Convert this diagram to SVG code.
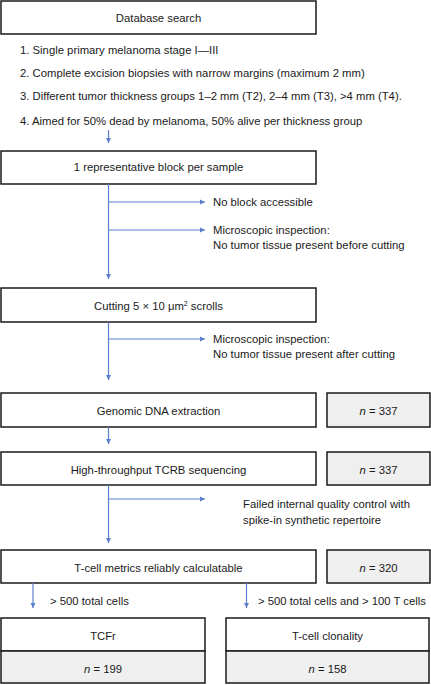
<svg xmlns="http://www.w3.org/2000/svg" width="431" height="685" viewBox="0 0 431 685">
<defs>
<style>
.box{fill:#fff;stroke:#1a1a1a;stroke-width:1.5}
.gbox{fill:#efefef;stroke:#1a1a1a;stroke-width:1.5}
.t{font-family:"Liberation Sans",Arial,sans-serif;font-size:11.3px;fill:#1a1a1a}
.c{text-anchor:middle}
.ln{fill:none;stroke:#5a7fcc;stroke-width:1.2}
</style>
<marker id="ah" markerWidth="6" markerHeight="6" refX="5" refY="3" orient="auto" markerUnits="userSpaceOnUse">
<path d="M0,0.5 L5,3 L0,5.5 Z" fill="#5a7fcc"/>
</marker>
</defs>
<rect width="431" height="685" fill="#fff"/>
<g id="n1">
<rect class="box" x="1" y="1" width="315" height="33"/>
<text class="t c" x="158.5" y="22">Database search</text>
</g>
<g id="criteria">
<text class="t" x="20" y="54">1. Single primary melanoma stage I—III</text>
<text class="t" x="20" y="77">2. Complete excision biopsies with narrow margins (maximum 2 mm)</text>
<text class="t" x="20" y="100">3. Different tumor thickness groups 1–2 mm (T2), 2–4 mm (T3), &gt;4 mm (T4).</text>
<text class="t" x="20" y="125">4. Aimed for 50% dead by melanoma, 50% alive per thickness group</text>
</g>
<g id="n2">
<rect class="box" x="1" y="151" width="315" height="33"/>
<text class="t c" x="158.5" y="171">1 representative block per sample</text>
</g>
<g id="ex1">
<text class="t" x="213" y="206">No block accessible</text>
</g>
<g id="ex2">
<text class="t" x="213" y="234">Microscopic inspection:</text>
<text class="t" x="213" y="249">No tumor tissue present before cutting</text>
</g>
<g id="n3">
<rect class="box" x="1" y="288" width="315" height="34"/>
<text class="t c" x="158.5" y="310">Cutting 5 × 10 μm<tspan font-size="7" dy="-4">2</tspan><tspan dy="4"> scrolls</tspan></text>
</g>
<g id="ex3">
<text class="t" x="213" y="343">Microscopic inspection:</text>
<text class="t" x="213" y="358">No tumor tissue present after cutting</text>
</g>
<g id="n4">
<rect class="box" x="1" y="393" width="315" height="34"/>
<text class="t c" x="158.5" y="415">Genomic DNA extraction</text>
</g>
<g id="n4c">
<rect class="gbox" x="327" y="393" width="103" height="34"/>
<text class="t c" x="378.5" y="415"><tspan font-style="italic">n</tspan> = 337</text>
</g>
<g id="n5">
<rect class="box" x="1" y="452" width="315" height="33"/>
<text class="t c" x="158.5" y="474">High-throughput TCRB sequencing</text>
</g>
<g id="n5c">
<rect class="gbox" x="327" y="452" width="103" height="33"/>
<text class="t c" x="378.5" y="474"><tspan font-style="italic">n</tspan> = 337</text>
</g>
<g id="ex4">
<text class="t" x="243" y="508">Failed internal quality control with</text>
<text class="t" x="243" y="524">spike-in synthetic repertoire</text>
</g>
<g id="n6">
<rect class="box" x="1" y="550" width="315" height="33"/>
<text class="t c" x="158.5" y="572">T-cell metrics reliably calculatable</text>
</g>
<g id="n6c">
<rect class="gbox" x="327" y="550" width="103" height="33"/>
<text class="t c" x="378.5" y="572"><tspan font-style="italic">n</tspan> = 320</text>
</g>
<g id="lbl">
<text class="t" x="50" y="605">&gt; 500 total cells</text>
<text class="t" x="258" y="605">&gt; 500 total cells and &gt; 100 T cells</text>
</g>
<g id="n7">
<rect class="box" x="1" y="618" width="204" height="33"/>
<rect class="gbox" x="1" y="651" width="204" height="32"/>
<text class="t c" x="103" y="640">TCFr</text>
<text class="t c" x="103" y="673"><tspan font-style="italic">n</tspan> = 199</text>
</g>
<g id="n8">
<rect class="box" x="226" y="618" width="203" height="33"/>
<rect class="gbox" x="226" y="651" width="203" height="32"/>
<text class="t c" x="327.5" y="640">T-cell clonality</text>
<text class="t c" x="327.5" y="673"><tspan font-style="italic">n</tspan> = 158</text>
</g>
<g id="connectors">
<line class="ln" x1="108.5" y1="130" x2="108.5" y2="143" marker-end="url(#ah)"/>
<line class="ln" x1="108.5" y1="184" x2="108.5" y2="279" marker-end="url(#ah)"/>
<line class="ln" x1="108.5" y1="202" x2="205" y2="202" marker-end="url(#ah)"/>
<line class="ln" x1="108.5" y1="230" x2="205" y2="230" marker-end="url(#ah)"/>
<line class="ln" x1="108.5" y1="322" x2="108.5" y2="380" marker-end="url(#ah)"/>
<line class="ln" x1="108.5" y1="339" x2="205" y2="339" marker-end="url(#ah)"/>
<line class="ln" x1="108.5" y1="427" x2="108.5" y2="444" marker-end="url(#ah)"/>
<line class="ln" x1="108.5" y1="485" x2="108.5" y2="543" marker-end="url(#ah)"/>
<line class="ln" x1="108.5" y1="499" x2="205" y2="499" marker-end="url(#ah)"/>
<line class="ln" x1="33" y1="583" x2="33" y2="608" marker-end="url(#ah)"/>
<line class="ln" x1="246.5" y1="583" x2="246.5" y2="608" marker-end="url(#ah)"/>
</g>
</svg>
